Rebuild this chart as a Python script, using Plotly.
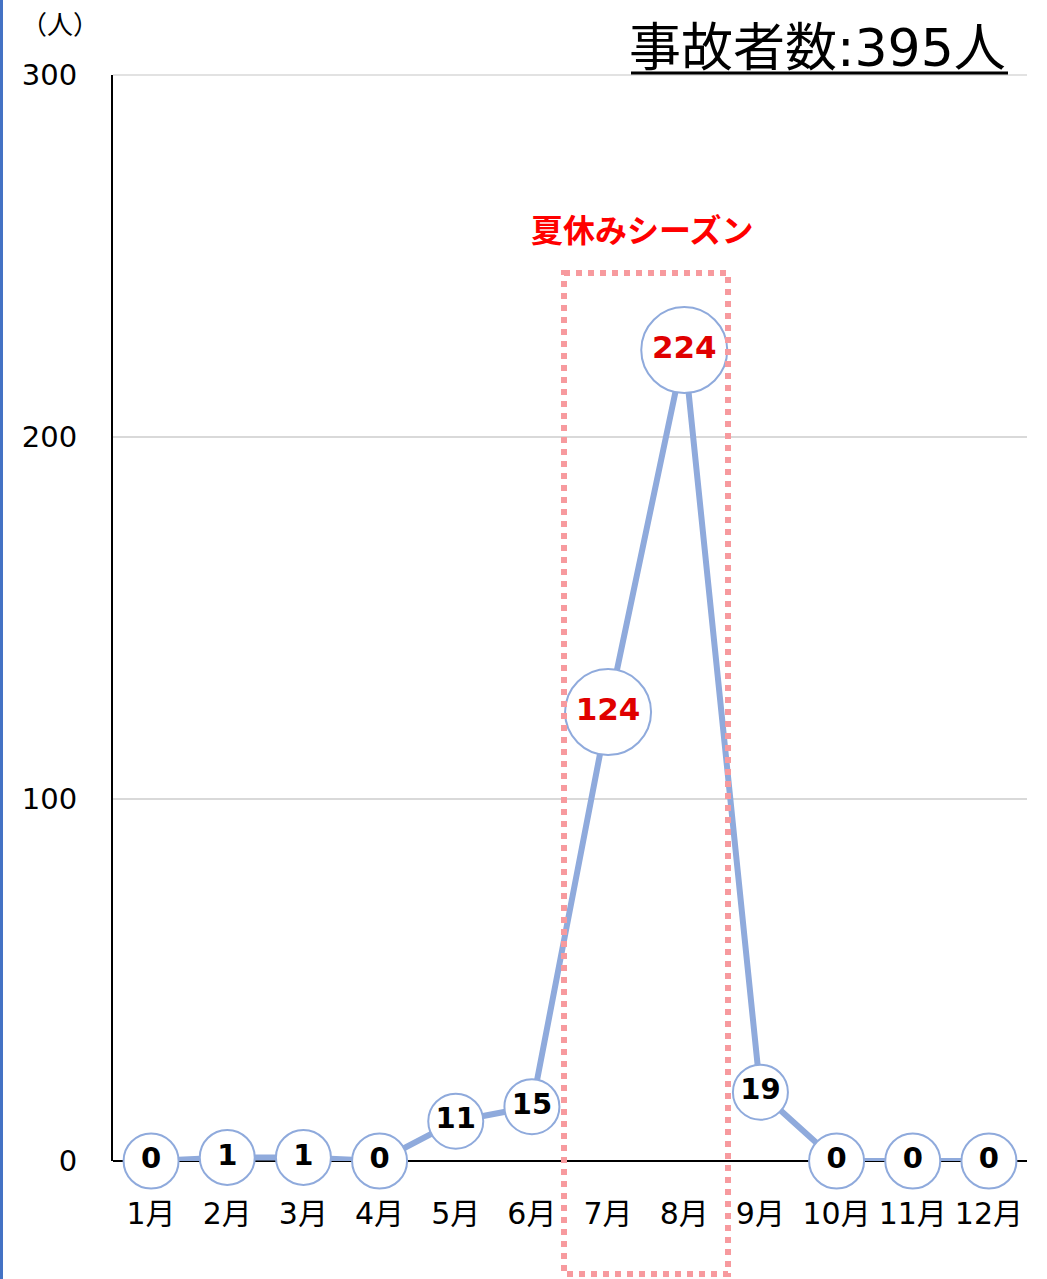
import plotly.graph_objects as go

months = ["1月", "2月", "3月", "4月", "5月", "6月", "7月", "8月", "9月", "10月", "11月", "12月"]
counts = [0, 1, 1, 0, 11, 15, 124, 224, 19, 0, 0, 0]
highlight = ["7月", "8月"]
y_ticks = [0, 100, 200, 300]

W, H = 1047, 1279
L, R, T, B = 113, 20, 75, 118
pw, ph = W - L - R, H - T - B

def px(x):
    return (x - L) / pw

def py(y):
    return (H - B - y) / ph

FONT = "DejaVu Sans, Noto Sans CJK JP"

sizes = [86 if m in highlight else 55 for m in months]
tcolors = ["#E00000" if m in highlight else "#000000" for m in months]
tsizes = [31 if m in highlight else 29 for m in months]

fig = go.Figure()
fig.add_trace(go.Scatter(
    x=months, y=counts, mode="lines+markers+text",
    line=dict(color="#8FAADC", width=6),
    marker=dict(size=sizes, color="white", opacity=1,
                line=dict(color="#8FAADC", width=2)),
    text=[str(c) for c in counts], textposition="middle center",
    textfont=dict(family="DejaVu Sans", size=tsizes, color=tcolors, weight="bold"),
    cliponaxis=False, hoverinfo="skip",
))

fig.update_layout(
    width=W, height=H,
    margin=dict(l=L, r=R, t=T, b=B, autoexpand=False),
    plot_bgcolor="white", paper_bgcolor="white",
    showlegend=False,
    font=dict(family=FONT, color="black"),
    xaxis=dict(
        type="category", range=[-0.5, 11.5], showgrid=False,
        showline=False, zeroline=False, ticks="",
        tickfont=dict(size=30, family=FONT),
        ticklabelstandoff=32,
    ),
    yaxis=dict(
        range=[0, 300], tickvals=y_ticks, showgrid=True, gridcolor="#D9D9D9",
        gridwidth=1.5, zeroline=True, zerolinecolor="black", zerolinewidth=1.5,
        showline=True, linecolor="black", linewidth=2, ticks="",
        tickfont=dict(size=29, family=FONT),
        ticklabelstandoff=28,
    ),
    shapes=[
        dict(type="line", xref="paper", yref="paper",
             x0=0, x1=1, y0=1, y1=1,
             line=dict(color="#D9D9D9", width=1.5), layer="below"),
        dict(type="rect", xref="paper", yref="paper",
             x0=px(564), x1=px(728), y0=py(273), y1=py(1274),
             line=dict(color="#F79A9E", width=6, dash="dot"), layer="above"),
        dict(type="line", xref="paper", yref="paper",
             x0=px(631), x1=px(1008), y0=py(73), y1=py(73),
             line=dict(color="black", width=3)),
        dict(type="line", xref="paper", yref="paper",
             x0=px(1.5), x1=px(1.5), y0=py(0), y1=py(H),
             line=dict(color="#4472C4", width=3)),
    ],
    annotations=[
        dict(text="事故者数:395人", xref="paper", yref="paper",
             x=px(1008), y=py(72), xanchor="right", yanchor="bottom", yshift=-8,
             showarrow=False, font=dict(size=52, color="black", family=FONT)),
        dict(text="（人）", xref="paper", yref="paper",
             x=px(60), y=py(22), xanchor="center", yanchor="middle",
             showarrow=False, font=dict(size=26, color="black", family="Noto Sans CJK JP")),
        dict(text="<b>夏休みシーズン</b>", xref="paper", yref="paper",
             x=px(642), y=py(228), xanchor="center", yanchor="middle",
             showarrow=False, font=dict(size=32, color="#FF0000", family="Noto Sans CJK JP")),
    ],
)

fig.write_html("out.html", config={"displayModeBar": False},
               post_script="document.body.style.margin='0';")
